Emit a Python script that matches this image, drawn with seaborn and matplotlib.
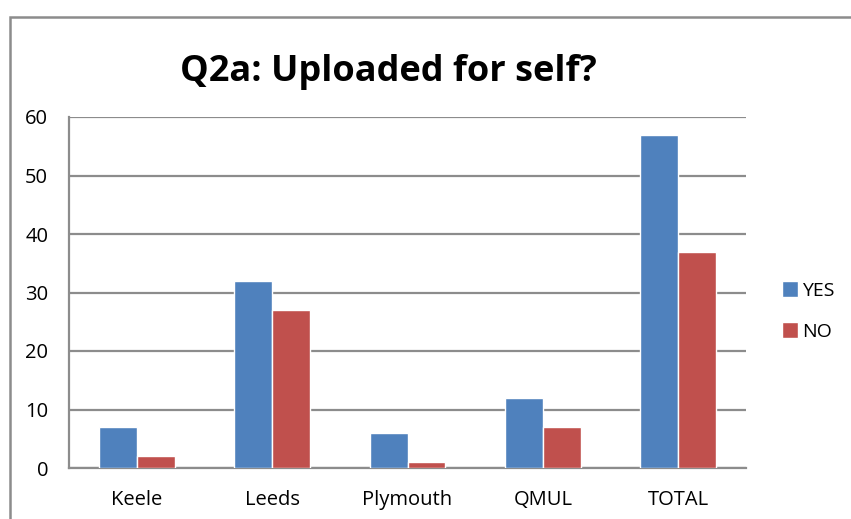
import matplotlib
matplotlib.use("Agg")
import matplotlib.pyplot as plt
import seaborn as sns
import pandas as pd
from matplotlib.patches import Rectangle, Patch

categories = ["Keele", "Leeds", "Plymouth", "QMUL", "TOTAL"]
yes_values = [7, 32, 6, 12, 57]
no_values = [2, 27, 1, 7, 37]
series_names = ["YES", "NO"]
yticks = [0, 10, 20, 30, 40, 50, 60]

df = pd.DataFrame({
    "category": categories * 2,
    "value": yes_values + no_values,
    "series": [series_names[0]] * len(categories) + [series_names[1]] * len(categories),
})

sns.set_style("white")
plt.rcParams["font.family"] = ["Open Sans", "DejaVu Sans"]
plt.rcParams["text.color"] = "black"
plt.rcParams["xtick.color"] = "black"
plt.rcParams["ytick.color"] = "black"

W, H = 851, 519
fig = plt.figure(figsize=(W / 100, H / 100), dpi=100)
ax = fig.add_axes([69 / W, 1 - 468 / H, (746 - 69) / W, (468 - 117) / H])

sns.barplot(data=df, x="category", y="value", hue="series", order=categories,
            hue_order=series_names, palette=["#4F81BD", "#C0504D"],
            width=0.56, saturation=1, ax=ax, legend=False, zorder=3)

ax.set_ylim(0, 60)
ax.set_xlim(-0.5, len(categories) - 0.5)
ax.set_yticks(yticks)
ax.set_yticklabels([str(t) for t in yticks], fontsize=14.5)
ax.tick_params(axis="x", labelsize=14.5, length=0, pad=16, colors="black")
ax.tick_params(axis="y", length=0, pad=15, colors="black")
ax.set_xlabel("")
ax.set_ylabel("")
ax.grid(axis="y", color="#8C8C8C", linewidth=1.6, zorder=0)
ax.set_axisbelow(True)
for s in ["top", "right"]:
    ax.spines[s].set_visible(False)
for s in ["left", "bottom"]:
    ax.spines[s].set_color("#8C8C8C")
    ax.spines[s].set_linewidth(1.6)

fig.text(388 / W, 1 - 72 / H, "Q2a: Uploaded for self?", ha="center", va="center",
         fontsize=26, fontweight="bold", color="black")

# outer chart border
fig.patches.append(Rectangle((10 / W, -0.1), 1.2, 1 - 17 / H + 0.1, transform=fig.transFigure,
                             fill=False, edgecolor="#8C8C8C", linewidth=1.8))

# legend
handles = [Patch(facecolor="#4F81BD"), Patch(facecolor="#C0504D")]
fig.legend(handles, series_names, loc="center left", bbox_to_anchor=(764 / W, 1 - 311 / H),
           frameon=False, fontsize=14, handlelength=0.85, handleheight=0.85,
           handletextpad=0.2, labelspacing=1.15)

fig.savefig("out.png", dpi=100)
